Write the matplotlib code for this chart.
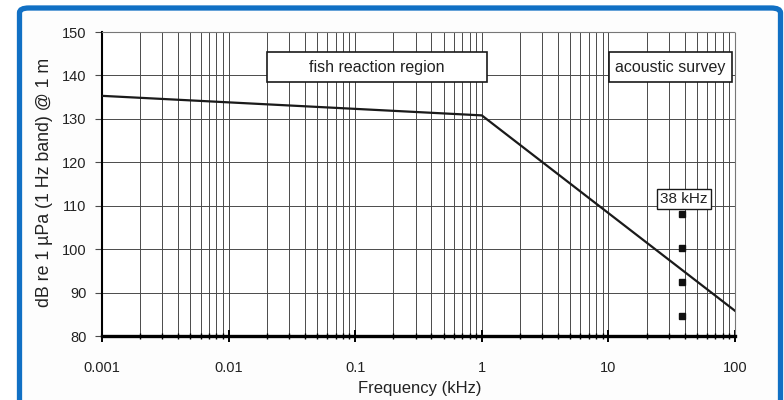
import numpy as np
import matplotlib
matplotlib.use("Agg")
import matplotlib.pyplot as plt
from matplotlib.patches import Rectangle, FancyBboxPatch
from matplotlib.ticker import LogLocator, FixedLocator, NullFormatter

plt.rcParams["font.family"] = ["Liberation Sans", "DejaVu Sans"]

# source level curve (kHz, dB)
freq_khz = [0.001, 1, 100]
level_db = [135.3, 130.8, 85.8]

# 38 kHz echosounder points
survey_freq = [38, 38, 38, 38]
survey_db = [108.2, 100.2, 92.4, 84.5]

xtick_vals = [0.001, 0.01, 0.1, 1, 10, 100]
xtick_labels = ["0.001", "0.01", "0.1", "1", "10", "100"]
ytick_vals = [80, 90, 100, 110, 120, 130, 140, 150]

fig = plt.figure(figsize=(7.84, 4.0), dpi=100)
fig.patch.set_facecolor("white")

# blue frame round the whole picture
W, H = 784, 400
frame = FancyBboxPatch((19.5 / W, -0.1), 761 / W, (0.1 + (H - 8) / H),
                       boxstyle="round,pad=0,rounding_size=0.012",
                       transform=fig.transFigure, facecolor="#fdfdfd",
                       edgecolor="#1170c4", linewidth=3.8, zorder=-5)
fig.patches.append(frame)

ax = fig.add_axes([102 / W, 64 / H, 633 / W, 304 / H])
ax.set_facecolor("white")
ax.set_xscale("log")
ax.set_xlim(0.001, 100)
ax.set_ylim(80, 150)

ax.xaxis.set_major_locator(FixedLocator(xtick_vals))
ax.set_xticklabels(xtick_labels)
ax.xaxis.set_minor_locator(LogLocator(base=10, subs=np.arange(2, 10)))
ax.xaxis.set_minor_formatter(NullFormatter())
ax.set_yticks(ytick_vals)

ax.grid(True, which="both", axis="x", color="#4a4a4a", linewidth=0.7)
ax.grid(True, which="major", axis="y", color="#4a4a4a", linewidth=0.7)
ax.set_axisbelow(True)

ax.tick_params(axis="x", which="major", direction="inout", length=8, width=1.4,
               pad=14, labelsize=10.5, colors="black", labelcolor="#222222")
ax.tick_params(axis="x", which="minor", direction="inout", length=5, width=1.0,
               colors="black")
ax.tick_params(axis="y", which="major", direction="out", length=5, width=0.8,
               pad=6, labelsize=10.5, colors="#4a4a4a", labelcolor="#222222")

ax.spines["bottom"].set_linewidth(2.4)
ax.spines["bottom"].set_zorder(3)
ax.spines["left"].set_linewidth(1.5)
for side in ["top", "right"]:
    ax.spines[side].set_linestyle((0, (1, 1)))
    ax.spines[side].set_linewidth(0.8)
    ax.spines[side].set_color("#777777")

ax.plot(freq_khz, level_db, color="#1a1a1a", linewidth=1.6, zorder=4)
ax.plot(survey_freq, survey_db, linestyle="none", marker="s", markersize=3.8,
        color="#111111", zorder=4)

# labelled boxes
boxes = [((0.0201, 138.4), 1.1, 145.4, "fish reaction region"),
         ((10.1, 138.4), 95, 145.4, "acoustic survey")]
for (x0, y0), x1, y1, label in boxes:
    ax.add_patch(Rectangle((x0, y0), x1 - x0, y1 - y0, facecolor="white",
                           edgecolor="#1a1a1a", linewidth=1.2, zorder=5))
    xc = np.sqrt(x0 * x1)
    ax.text(xc, (y0 + y1) / 2, label, ha="center", va="center",
            fontsize=11.5, color="#222222", zorder=6)

ax.text(39.5, 111.6, "38 kHz", ha="center", va="center", fontsize=11,
        color="#222222", zorder=6,
        bbox=dict(boxstyle="square,pad=0.2", facecolor="white",
                  edgecolor="#1a1a1a", linewidth=1.0))

fig.text(420 / W, 1 - 388 / H, "Frequency (kHz)", ha="center", va="center",
         fontsize=12, color="#222222")
fig.text(45 / W, 1 - 182 / H, "dB re 1 \u00b5Pa (1 Hz band) @ 1 m", ha="center",
         va="center", rotation=90, fontsize=12.8, color="#222222")

fig.savefig("out.png", dpi=100)
